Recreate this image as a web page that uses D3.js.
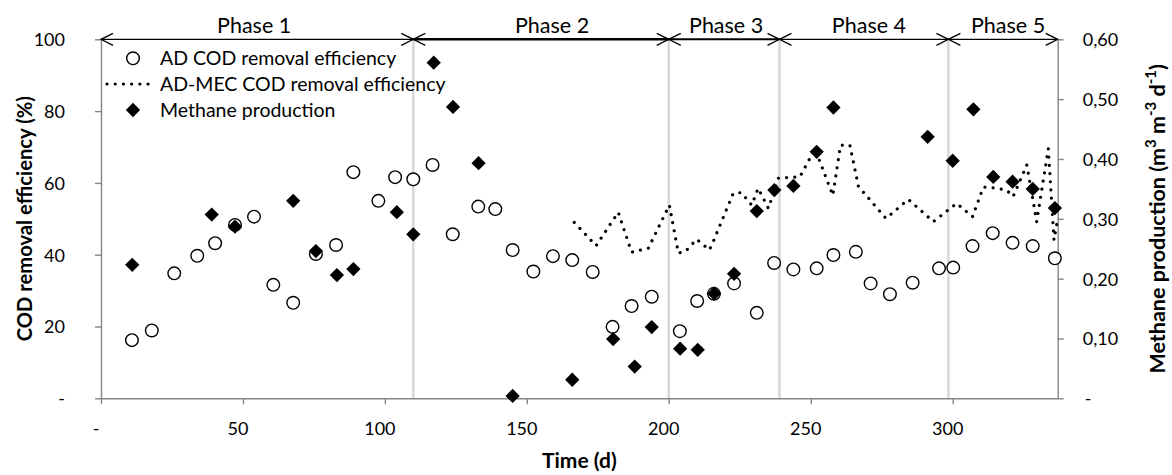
<!DOCTYPE html>
<html>
<head>
<meta charset="utf-8">
<script src="https://cdn.jsdelivr.net/npm/d3@7"></script>
<style>
  html, body { margin: 0; padding: 0; background: #fff; }
  svg { display: block; font-family: Lato, "Open Sans", sans-serif; }
</style>
</head>
<body>
<svg id="chart" width="1172" height="475"></svg>
<script>
// ---------------- data ----------------
const adDays = [10.9, 17.9, 25.8, 33.9, 40.2, 47.2, 53.9, 60.7, 67.7, 75.7, 82.8, 88.9, 97.7, 103.6,
  110.0, 116.8, 123.9, 132.9, 138.9, 145.0, 152.3, 159.2, 166.0, 173.2, 180.2, 186.9, 194.0,
  203.9, 210.0, 215.9, 223.0, 231.0, 237.1, 243.9, 252.1, 258.0, 265.9, 271.1, 277.9, 285.9,
  295.2, 300.2, 307.0, 314.1, 321.1, 328.2, 336.0];
const adValues = [16.2, 18.9, 34.8, 39.7, 43.2, 48.3, 50.6, 31.6, 26.6, 40.2, 42.7, 63.0, 55.0, 61.6,
  61.0, 65.0, 45.7, 53.4, 52.7, 41.3, 35.3, 39.6, 38.5, 35.2, 19.9, 25.7, 28.3,
  18.7, 27.1, 29.1, 32.0, 23.8, 37.7, 35.9, 36.2, 39.9, 40.8, 32.0, 29.0, 32.2,
  36.2, 36.4, 42.4, 46.0, 43.3, 42.4, 39.0];

const mecDays = [166.7, 174.4, 182.2, 186.9, 192.8, 200.2, 203.4, 206.1, 209.8, 214.3, 216.0, 222.7,
  225.6, 229.2, 231.5, 235.1, 238.6, 246.2, 251.5, 257.8, 260.5, 263.8, 266.8, 276.5, 284.4,
  293.2, 301.4, 307.0, 310.8, 313.0, 319.0, 321.3, 326.1, 329.6, 333.7, 335.7, 337.0];
const mecValues = [49.0, 42.5, 51.8, 40.7, 41.8, 53.8, 40.4, 41.1, 44.3, 41.3, 44.3, 57.1,
  57.3, 53.8, 58.5, 52.9, 61.3, 61.7, 69.5, 56.5, 70.5, 70.5, 59.0, 50.1, 55.4,
  49.2, 54.3, 50.6, 58.8, 58.8, 58.0, 56.2, 65.0, 49.2, 69.5, 44.1, 50.0];

const ch4Days = [11.0, 39.0, 47.2, 67.7, 75.7, 83.1, 88.9, 104.2, 110.0, 117.2, 124.0, 133.0, 145.0,
  166.0, 180.4, 188.0, 194.0, 204.0, 210.2, 216.0, 223.0, 231.0, 237.2, 243.9, 252.1, 258.0,
  291.2, 300.0, 307.3, 314.3, 321.1, 328.2, 336.0];
const ch4Values = [0.223, 0.307, 0.287, 0.330, 0.246, 0.206, 0.216, 0.311, 0.274, 0.561, 0.487, 0.393, 0.004,
  0.031, 0.099, 0.053, 0.119, 0.083, 0.081, 0.175, 0.208, 0.313, 0.348, 0.355, 0.412, 0.486,
  0.437, 0.397, 0.483, 0.370, 0.362, 0.350, 0.318];

const phaseNames = ["Phase 1", "Phase 2", "Phase 3", "Phase 4", "Phase 5"];
const phaseBounds = [0, 110, 200, 239, 298.5, 337];

const xTicks = [0, 50, 100, 150, 200, 250, 300];
const yTicks = [0, 20, 40, 60, 80, 100];
const y2Ticks = [0, 0.1, 0.2, 0.3, 0.4, 0.5, 0.6];

const legendLabels = ["AD COD removal efficiency", "AD-MEC COD removal efficiency", "Methane production"];

// ---------------- layout ----------------
const svg = d3.select("#chart");
const L = 101, R = 1057.7, T = 39.3, B = 398.3;
const x = d3.scaleLinear().domain([0, 337]).range([L, R]);
const y = d3.scaleLinear().domain([0, 100]).range([B, T]);
const y2 = d3.scaleLinear().domain([0, 0.6]).range([B, T]);

const axisColor = "#868686";
const tickFont = 18;

// phase separator lines
svg.append("g").selectAll("line")
  .data(phaseBounds.slice(1, -1))
  .join("line")
  .attr("x1", d => x(d)).attr("x2", d => x(d))
  .attr("y1", T).attr("y2", B)
  .attr("stroke", "#d9d9d9").attr("stroke-width", 2.6);

// axes
const xAxis = svg.append("g").attr("transform", `translate(0,${B})`)
  .call(d3.axisBottom(x).tickValues(xTicks).tickSize(6).tickSizeOuter(0)
    .tickFormat(d => d === 0 ? "-" : d));
const yAxis = svg.append("g").attr("transform", `translate(${L},0)`)
  .call(d3.axisLeft(y).tickValues(yTicks).tickSize(6).tickSizeOuter(0)
    .tickFormat(d => d === 0 ? "-" : d));
const y2Axis = svg.append("g").attr("transform", `translate(${R},0)`)
  .call(d3.axisRight(y2).tickValues(y2Ticks).tickSize(6).tickSizeOuter(0)
    .tickFormat(d => d === 0 ? "-" : d.toFixed(2).replace(".", ",")));

[xAxis, yAxis, y2Axis].forEach(g => {
  g.select(".domain").attr("stroke", axisColor).attr("stroke-width", 1.4);
  g.selectAll(".tick line").attr("stroke", axisColor).attr("stroke-width", 1.4);
  g.selectAll("text").attr("fill", "#000").attr("font-size", tickFont)
    .attr("font-family", "Lato, sans-serif");
});
xAxis.selectAll("text").attr("y", 36.7).attr("dy", 0).attr("x", -5.5);
yAxis.selectAll("text").attr("x", -36).attr("dy", "0.36em");
y2Axis.selectAll("text").attr("x", d => d === 0 ? 27 : 25).attr("dy", "0.36em");

// AD COD circles
svg.append("g").selectAll("circle")
  .data(adDays.map((d, i) => [d, adValues[i]]))
  .join("circle")
  .attr("cx", d => x(d[0])).attr("cy", d => y(d[1])).attr("r", 6.3)
  .attr("fill", "#fff").attr("stroke", "#000").attr("stroke-width", 1.4);

// AD-MEC dotted line
const line = d3.line().x(d => x(d[0])).y(d => y(d[1]));
svg.append("path")
  .datum(mecDays.map((d, i) => [d, mecValues[i]]))
  .attr("d", line)
  .attr("fill", "none").attr("stroke", "#000").attr("stroke-width", 3.2)
  .attr("stroke-linecap", "round").attr("stroke-dasharray", "0.01 8.2");

// Methane diamonds
const diamond = d3.symbol().type(d3.symbolSquare).size(102);
svg.append("g").selectAll("path")
  .data(ch4Days.map((d, i) => [d, ch4Values[i]]))
  .join("path")
  .attr("d", diamond)
  .attr("transform", d => `translate(${x(d[0])},${y2(d[1])}) rotate(45)`)
  .attr("fill", "#000");

// phase arrows
const ag = svg.append("g");
const phaseWidths = [1.3, 2.6, 2.0, 1.3, 1.3];
const labelShift = [-3, 11, 2, 5, 5];
phaseNames.forEach((name, i) => {
  const a = x(phaseBounds[i]), b = x(phaseBounds[i + 1]);
  const w = phaseWidths[i];
  ag.append("line").attr("x1", a).attr("x2", b).attr("y1", T).attr("y2", T)
    .attr("stroke", "#000").attr("stroke-width", w);
  ag.append("path").attr("d", `M${a + 12},${T - 6} L${a},${T} L${a + 12},${T + 6}`)
    .attr("fill", "none").attr("stroke", "#000").attr("stroke-width", 1.3);
  ag.append("path").attr("d", `M${b - 12},${T - 6} L${b},${T} L${b - 12},${T + 6}`)
    .attr("fill", "none").attr("stroke", "#000").attr("stroke-width", 1.3);
  ag.append("text").attr("x", (a + b) / 2 + labelShift[i]).attr("y", 33)
    .attr("text-anchor", "middle").attr("font-size", 21.5).text(name);
});

// legend
const lg = svg.append("g");
const legX = 133, legTextX = 160, legY = [58.3, 84, 110];
lg.append("circle").attr("cx", legX).attr("cy", legY[0]).attr("r", 6.3)
  .attr("fill", "#fff").attr("stroke", "#000").attr("stroke-width", 1.4);
lg.append("line").attr("x1", 107).attr("x2", 153).attr("y1", legY[1]).attr("y2", legY[1])
  .attr("stroke", "#000").attr("stroke-width", 3.2).attr("stroke-linecap", "round")
  .attr("stroke-dasharray", "0.01 8.2");
lg.append("path").attr("d", diamond)
  .attr("transform", `translate(${legX},${legY[2]}) rotate(45)`).attr("fill", "#000");
lg.selectAll("text").data(legendLabels).join("text")
  .attr("x", legTextX).attr("y", (d, i) => legY[i]).attr("dy", "0.36em")
  .attr("font-size", 19.5).text(d => d);

// axis titles
svg.append("text").attr("transform", `translate(32,${(T + B) / 2}) rotate(-90)`)
  .attr("text-anchor", "middle").attr("font-weight", "bold").attr("font-size", 20.2)
  .text("COD removal efficiency (%)");
svg.append("text").attr("x", (L + R) / 2).attr("y", 468)
  .attr("text-anchor", "middle").attr("font-weight", "bold").attr("font-size", 21)
  .text("Time (d)");
const rt = svg.append("text").attr("transform", `translate(1165,${(T + B) / 2}) rotate(-90)`)
  .attr("text-anchor", "middle").attr("font-weight", "bold").attr("font-size", 21.5);
rt.append("tspan").text("Methane production (m");
rt.append("tspan").attr("font-size", 15).attr("baseline-shift", "super").text("3");
rt.append("tspan").text(" m");
rt.append("tspan").attr("font-size", 15).attr("baseline-shift", "super").text("-3");
rt.append("tspan").text(" d");
rt.append("tspan").attr("font-size", 15).attr("baseline-shift", "super").text("-1");
rt.append("tspan").text(")");
</script>
</body>
</html>
